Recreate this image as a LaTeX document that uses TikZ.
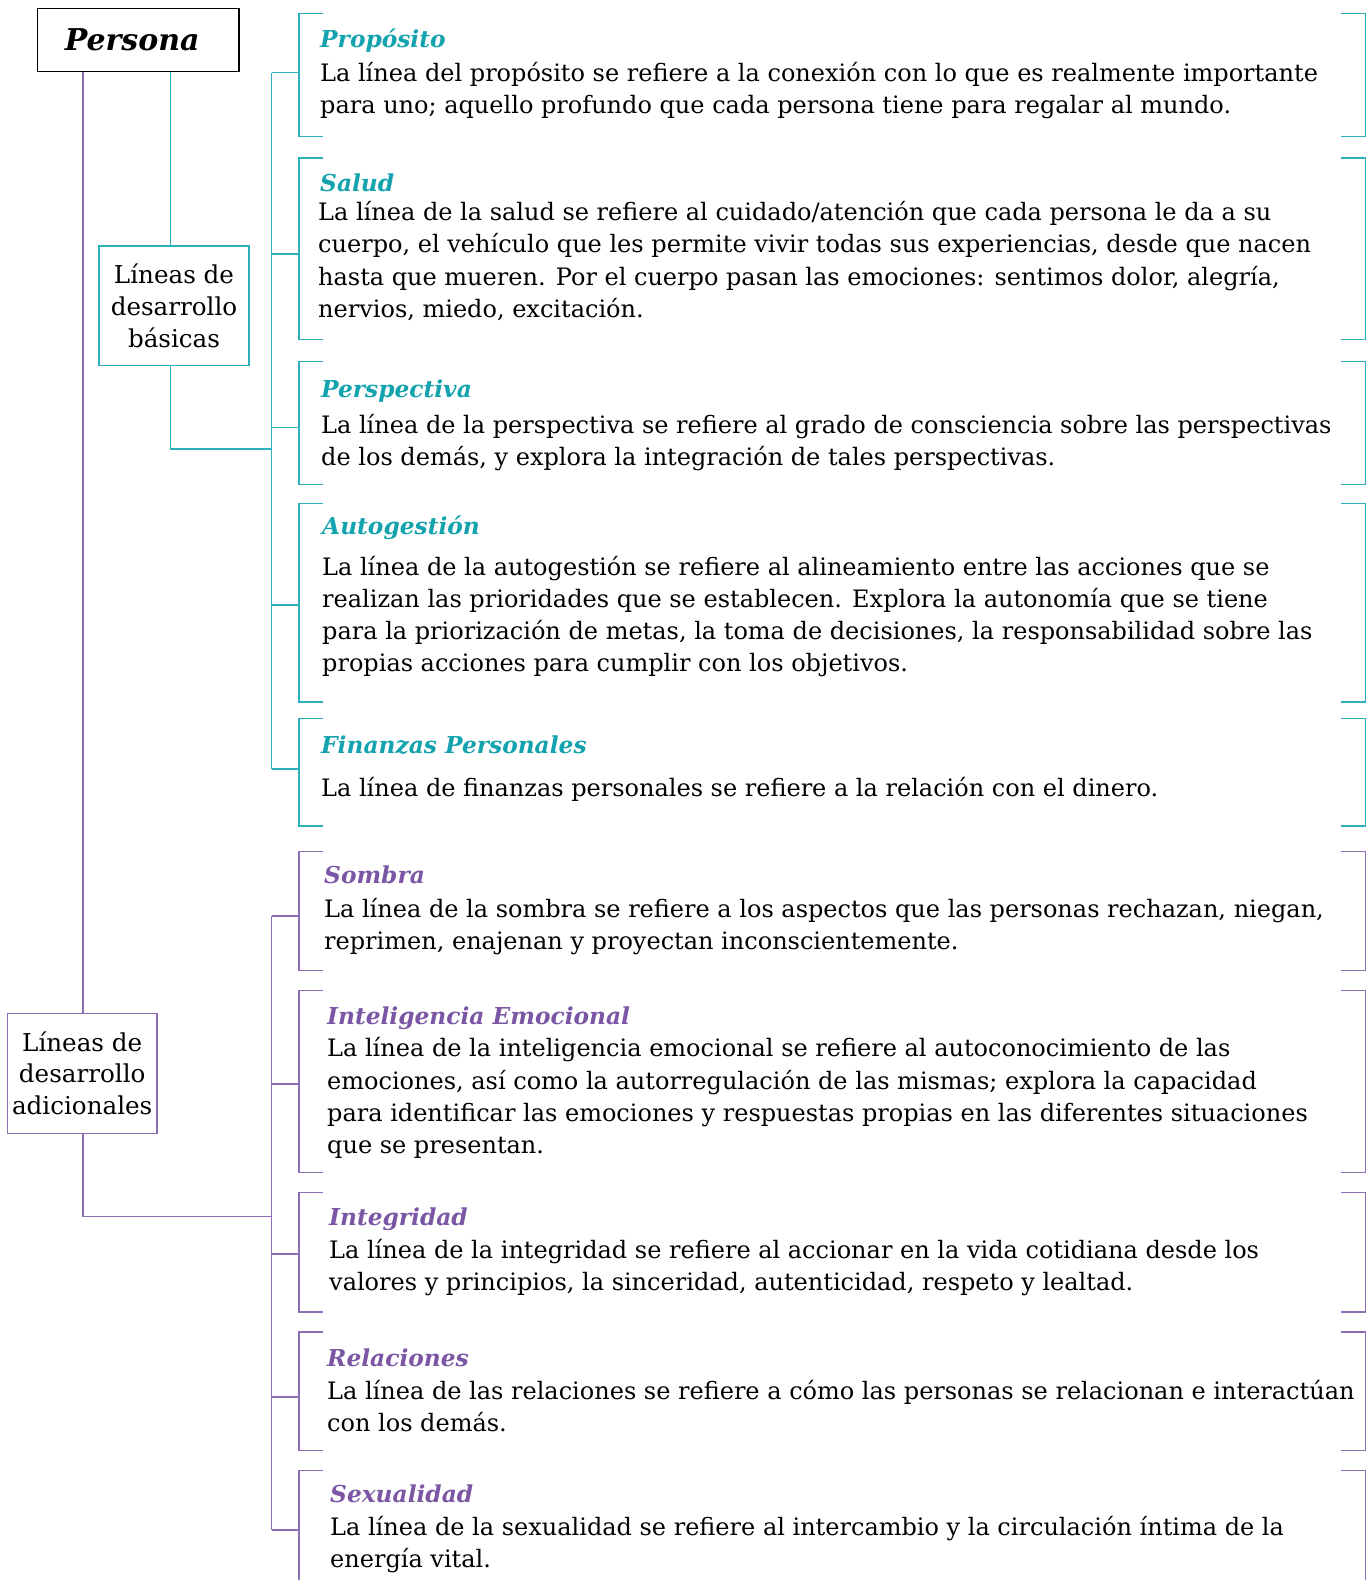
\documentclass[tikz,border=0pt]{standalone}
\usepackage{fontspec}
\setmainfont{DejaVu Serif}
\definecolor{tealT}{HTML}{13A3AE}
\definecolor{tealL}{HTML}{2BB1BB}
\definecolor{purT}{HTML}{7B56A4}
\definecolor{purL}{HTML}{8D6DB4}
\newcommand\brk[2]{%
  \draw[#2] ([xshift=24.3pt]#1.north west) -- (#1.north west) -- (#1.south west) -- ([xshift=24.3pt]#1.south west);
  \draw[#2] ([xshift=-24.3pt]#1.north east) -- (#1.north east) -- (#1.south east) -- ([xshift=-24.3pt]#1.south east);}
\begin{document}
\begin{tikzpicture}[x=1pt,y=-1pt,
  tl/.style={draw=tealL,line width=1.3pt},
  pl/.style={draw=purL,line width=1.3pt},
  item/.style={inner sep=0pt,outer sep=0pt,minimum width=1066.7pt},
  body/.style={anchor=base west,inner sep=0pt,font=\fontsize{24}{32}\selectfont},
  ttlT/.style={anchor=base west,inner sep=0pt,text=tealT,font=\fontsize{23.3}{26}\selectfont\bfseries\itshape},
  ttlP/.style={anchor=base west,inner sep=0pt,text=purT,font=\fontsize{23.3}{26}\selectfont\bfseries\itshape},
  catbox/.style={inner sep=0pt,align=center,font=\fontsize{24.6}{31.8}\selectfont,line width=1.3pt}]
\useasboundingbox (0,0) rectangle (1368,1580);
\fill[white] (0,0) rectangle (1368,1580);

% top box
\node[draw=black,line width=1.5pt,inner sep=0pt,minimum width=201.7pt,minimum height=63.4pt,
  font=\fontsize{30}{34}\selectfont\bfseries\itshape] (persona) at (138.2,40) {\kern-12pt Persona};

% category boxes
\node[catbox,draw=tealL,minimum width=150pt,minimum height=119.7pt] (basicas) at (174,305.9)
  {Líneas de\\desarrollo\\básicas};
\node[catbox,draw=purL,minimum width=149.7pt,minimum height=120pt] (adic) at (82.2,1073.3)
  {Líneas de\\desarrollo\\adicionales};

% helper coordinates
\coordinate (tA) at (170.3,0);
\coordinate (pA) at (83,0);
\coordinate (tJ) at (271.7,449);
\coordinate (pJ) at (271.7,1216.7);
\coordinate (s1) at (271.7,72.7);
\coordinate (s2) at (271.7,254);
\coordinate (s3) at (271.7,427.7);
\coordinate (s4) at (271.7,605);
\coordinate (s5) at (271.7,769);
\coordinate (s6) at (271.7,916);
\coordinate (s7) at (271.7,1084);
\coordinate (s8) at (271.7,1254);
\coordinate (s9) at (271.7,1397);
\coordinate (s10) at (271.7,1530);

% item frames
\node[item,minimum height=123.4pt] (b1) at (832.35,75) {};
\node[item,minimum height=181.5pt] (b2) at (832.35,248.75) {};
\node[item,minimum height=122.9pt] (b3) at (832.35,423.15) {};
\node[item,minimum height=198.3pt] (b4) at (832.35,602.85) {};
\node[item,minimum height=107.7pt] (b5) at (832.35,772.15) {};
\node[item,minimum height=118.6pt] (b6) at (832.35,911) {};
\node[item,minimum height=182pt] (b7) at (832.35,1081.7) {};
\node[item,minimum height=119.3pt] (b8) at (832.35,1252.35) {};
\node[item,minimum height=118.7pt] (b9) at (832.35,1391.35) {};
\node[item,minimum height=109.3pt] (b10) at (832.35,1525.35) {};

% connectors
\draw[tl] (persona.south -| tA) -- (basicas.north -| tA);
\draw[pl] (persona.south -| pA) -- (adic.north -| pA);
\draw[tl] (basicas.south -| tA) |- (tJ);
\draw[pl] (adic.south -| pA) |- (pJ);
\draw[tl] (s1) -- (s5);
\draw[pl] (s6) -- (s10);
\foreach \i in {1,...,5}{\draw[tl] (s\i) -- (s\i -| b\i.west);}
\foreach \i in {6,...,10}{\draw[pl] (s\i) -- (s\i -| b\i.west);}

% brackets
\brk{b1}{tl}\brk{b2}{tl}\brk{b3}{tl}\brk{b4}{tl}\brk{b5}{tl}
\brk{b6}{pl}\brk{b7}{pl}\brk{b8}{pl}\brk{b9}{pl}
\draw[pl] ([xshift=24.3pt]b10.north west) -- (b10.north west) -- (b10.south west);
\draw[pl] ([xshift=-24.3pt]b10.north east) -- (b10.north east) -- (b10.south east);

% texts
\node[ttlT] (h1) at (320,47) {Propósito};
\node[body] (t1a) at (320,81.2) {La línea del propósito se refiere a la conexión con lo que es realmente importante};
\node[body] (t1b) at (320,113.4) {para uno; aquello profundo que cada persona tiene para regalar al mundo.};

\node[ttlT] (h2) at (320,191) {Salud};
\node[body] (t2a) at (318,220.7) {La línea de la salud se refiere al cuidado/atención que cada persona le da a su};
\node[body] (t2b) at (318,252.9) {cuerpo, el vehículo que les permite vivir todas sus experiencias, desde que nacen};
\node[body] (t2c) at (318,285.1) {hasta que mueren. Por el cuerpo pasan las emociones: sentimos dolor, alegría,};
\node[body] (t2d) at (318,317.3) {nervios, miedo, excitación.};

\node[ttlT] (h3) at (321,397.6) {Perspectiva};
\node[body] (t3a) at (321,433.2) {La línea de la perspectiva se refiere al grado de consciencia sobre las perspectivas};
\node[body] (t3b) at (321,465.4) {de los demás, y explora la integración de tales perspectivas.};

\node[ttlT] (h4) at (322,534.6) {Autogestión};
\node[body] (t4a) at (322,575.2) {La línea de la autogestión se refiere al alineamiento entre las acciones que se};
\node[body] (t4b) at (322,607.4) {realizan las prioridades que se establecen. Explora la autonomía que se tiene};
\node[body] (t4c) at (322,639.6) {para la priorización de metas, la toma de decisiones, la responsabilidad sobre las};
\node[body] (t4d) at (322,671.8) {propias acciones para cumplir con los objetivos.};

\node[ttlT] (h5) at (321,753.7) {Finanzas Personales};
\node[body] (t5a) at (321,796.7) {La línea de finanzas personales se refiere a la relación con el dinero.};

\node[ttlP] (h6) at (324,883.7) {Sombra};
\node[body] (t6a) at (324,917.7) {La línea de la sombra se refiere a los aspectos que las personas rechazan, niegan,};
\node[body] (t6b) at (324,949.7) {reprimen, enajenan y proyectan inconscientemente.};

\node[ttlP] (h7) at (327,1024.2) {Inteligencia Emocional};
\node[body] (t7a) at (327,1056.9) {La línea de la inteligencia emocional se refiere al autoconocimiento de las};
\node[body] (t7b) at (327,1089.1) {emociones, así como la autorregulación de las mismas; explora la capacidad};
\node[body] (t7c) at (327,1121.3) {para identificar las emociones y respuestas propias en las diferentes situaciones};
\node[body] (t7d) at (327,1153.5) {que se presentan.};

\node[ttlP] (h8) at (329,1225.7) {Integridad};
\node[body] (t8a) at (329,1258.2) {La línea de la integridad se refiere al accionar en la vida cotidiana desde los};
\node[body] (t8b) at (329,1290.4) {valores y principios, la sinceridad, autenticidad, respeto y lealtad.};

\node[ttlP] (h9) at (327,1366.7) {Relaciones};
\node[body] (t9a) at (327,1399.2) {La línea de las relaciones se refiere a cómo las personas se relacionan e interactúan};
\node[body] (t9b) at (327,1431.4) {con los demás.};

\node[ttlP] (h10) at (330,1502.7) {Sexualidad};
\node[body] (t10a) at (330,1535.4) {La línea de la sexualidad se refiere al intercambio y la circulación íntima de la};
\node[body] (t10b) at (330,1567) {energía vital.};
\end{tikzpicture}
\end{document}
